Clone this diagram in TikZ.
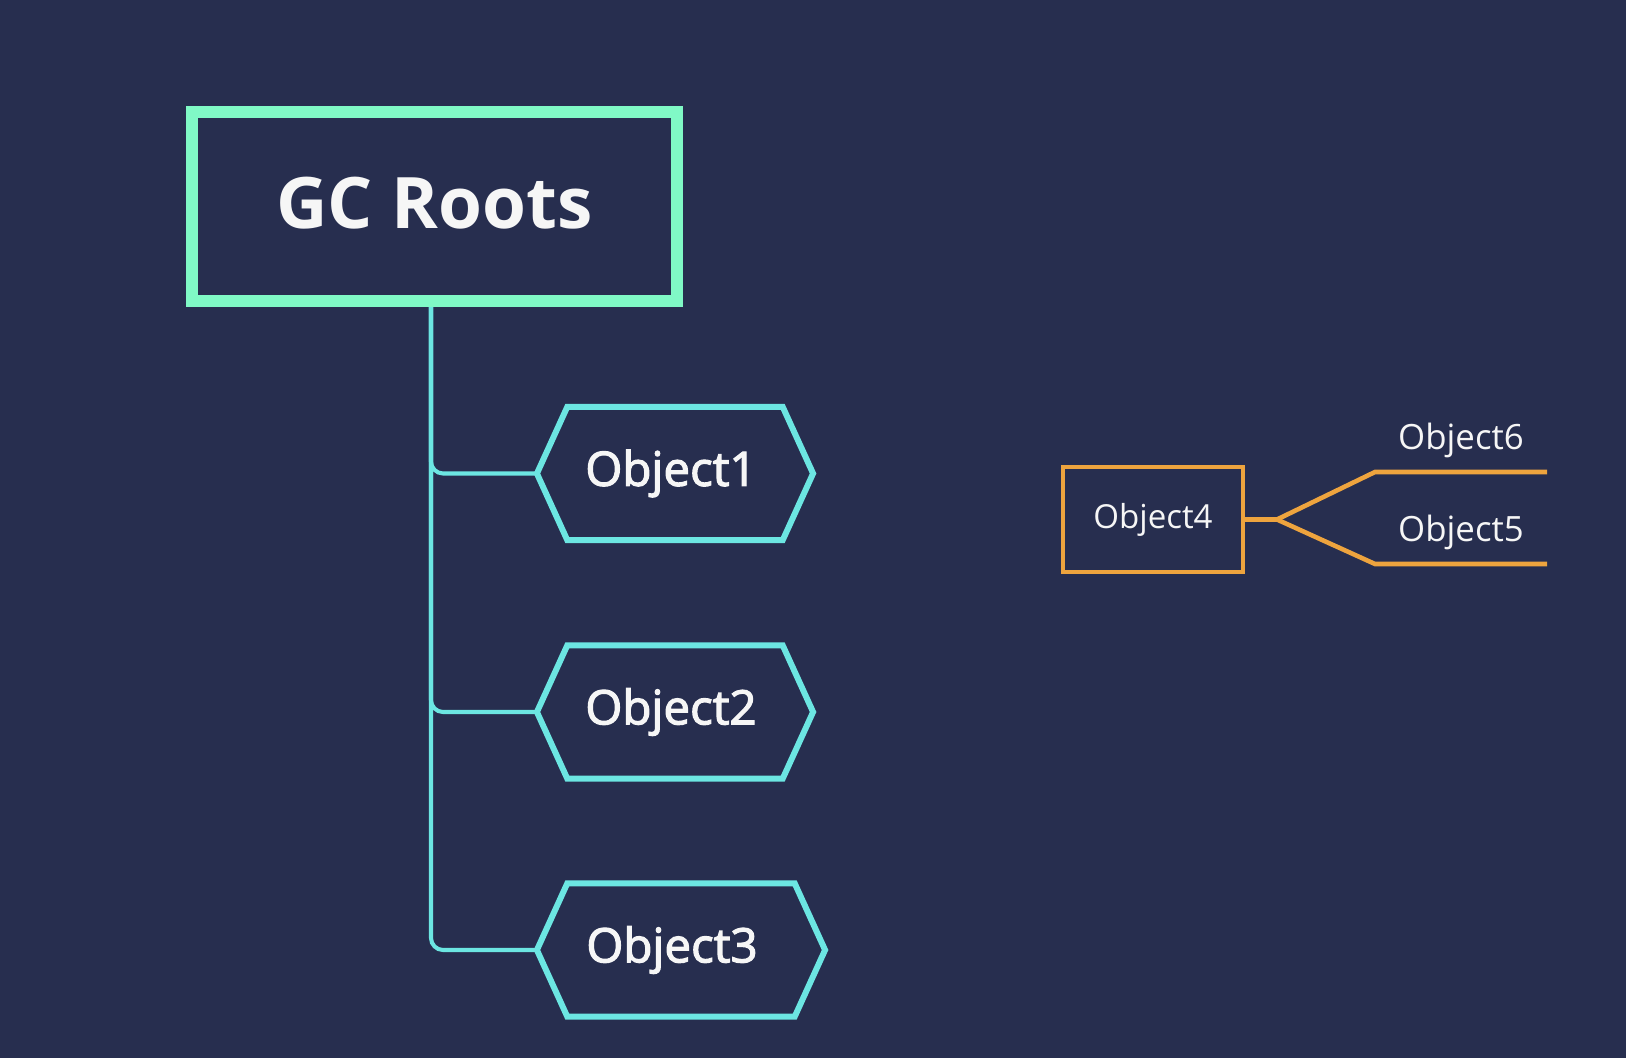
\documentclass[tikz,border=0pt]{standalone}
\usepackage{fontspec}
\setmainfont{Open Sans}
\newfontfamily\semifont{Open Sans}[FakeBold=2.5]
\usetikzlibrary{shapes.symbols}

\definecolor{bgnavy}{RGB}{39,46,79}
\definecolor{rootgreen}{RGB}{128,249,198}
\definecolor{objcyan}{RGB}{108,230,226}
\definecolor{lostorange}{RGB}{238,164,62}
\definecolor{labelwhite}{RGB}{246,246,246}

\tikzset{
  rootbox/.style={draw=rootgreen,line width=3.4pt,minimum width=4.85cm,minimum height=1.89cm,
    inner sep=0pt,text=labelwhite,font=\bfseries\fontsize{20.2}{24}\selectfont},
  hexobj/.style={shape=signal,signal to=east and west,signal pointer angle=131,
    draw=objcyan,line width=1.7pt,minimum height=1.33cm,inner sep=0pt,outer sep=0pt,
    text=labelwhite,font=\semifont\fontsize{13.5}{15}\selectfont},
  lostbox/.style={draw=lostorange,line width=1.2pt,minimum width=1.8cm,minimum height=1.05cm,
    inner sep=0pt,outer sep=0pt,text=labelwhite,font=\fontsize{9.4}{11}\selectfont},
  lostlabel/.style={text=labelwhite,font=\fontsize{9.9}{11}\selectfont},
  reach/.style={draw=objcyan,line width=1.15pt,rounded corners=0.12cm},
  lost/.style={draw=lostorange,line width=1.3pt}
}

\begin{document}
\begin{tikzpicture}[x=0.01cm,y=-0.01cm]
  % background
  \fill[bgnavy] (0,0) rectangle (1626,1058);
  \useasboundingbox (0,0) rectangle (1626,1058);

  % reachable part
  \node[rootbox] (gc) at (434.5,206.5) {\raisebox{0.08cm}{GC Roots}};
  \node[hexobj,minimum width=2.76cm] (obj1) at (675,473.5) {Object1\kern0.08cm};
  \node[hexobj,minimum width=2.76cm] (obj2) at (675,712) {Object2\kern0.08cm};
  \node[hexobj,minimum width=2.88cm] (obj3) at (681,950) {Object3\kern0.18cm};
  \coordinate (trunk) at ([xshift=-0.035cm]gc.south);

  \foreach \o in {obj1,obj2,obj3}
    \draw[reach] (trunk) |- (\o.west);

  % unreachable part
  \node[lostbox] (obj4) at (1153,519.5) {Object4};
  \coordinate (fork) at (1277,519.5);
  \coordinate (up) at (1375,472);
  \coordinate (down) at (1375,564);
  \coordinate (o6end) at (1547,472);
  \coordinate (o5end) at (1547,564);
  \node[lostlabel] (obj6) at (1461,440) {Object6};
  \node[lostlabel] (obj5) at (1461,532) {Object5};

  \draw[lost] (obj4.east) -- (fork) -- (up) -- (o6end);
  \draw[lost] (fork) -- (down) -- (o5end);
\end{tikzpicture}
\end{document}
